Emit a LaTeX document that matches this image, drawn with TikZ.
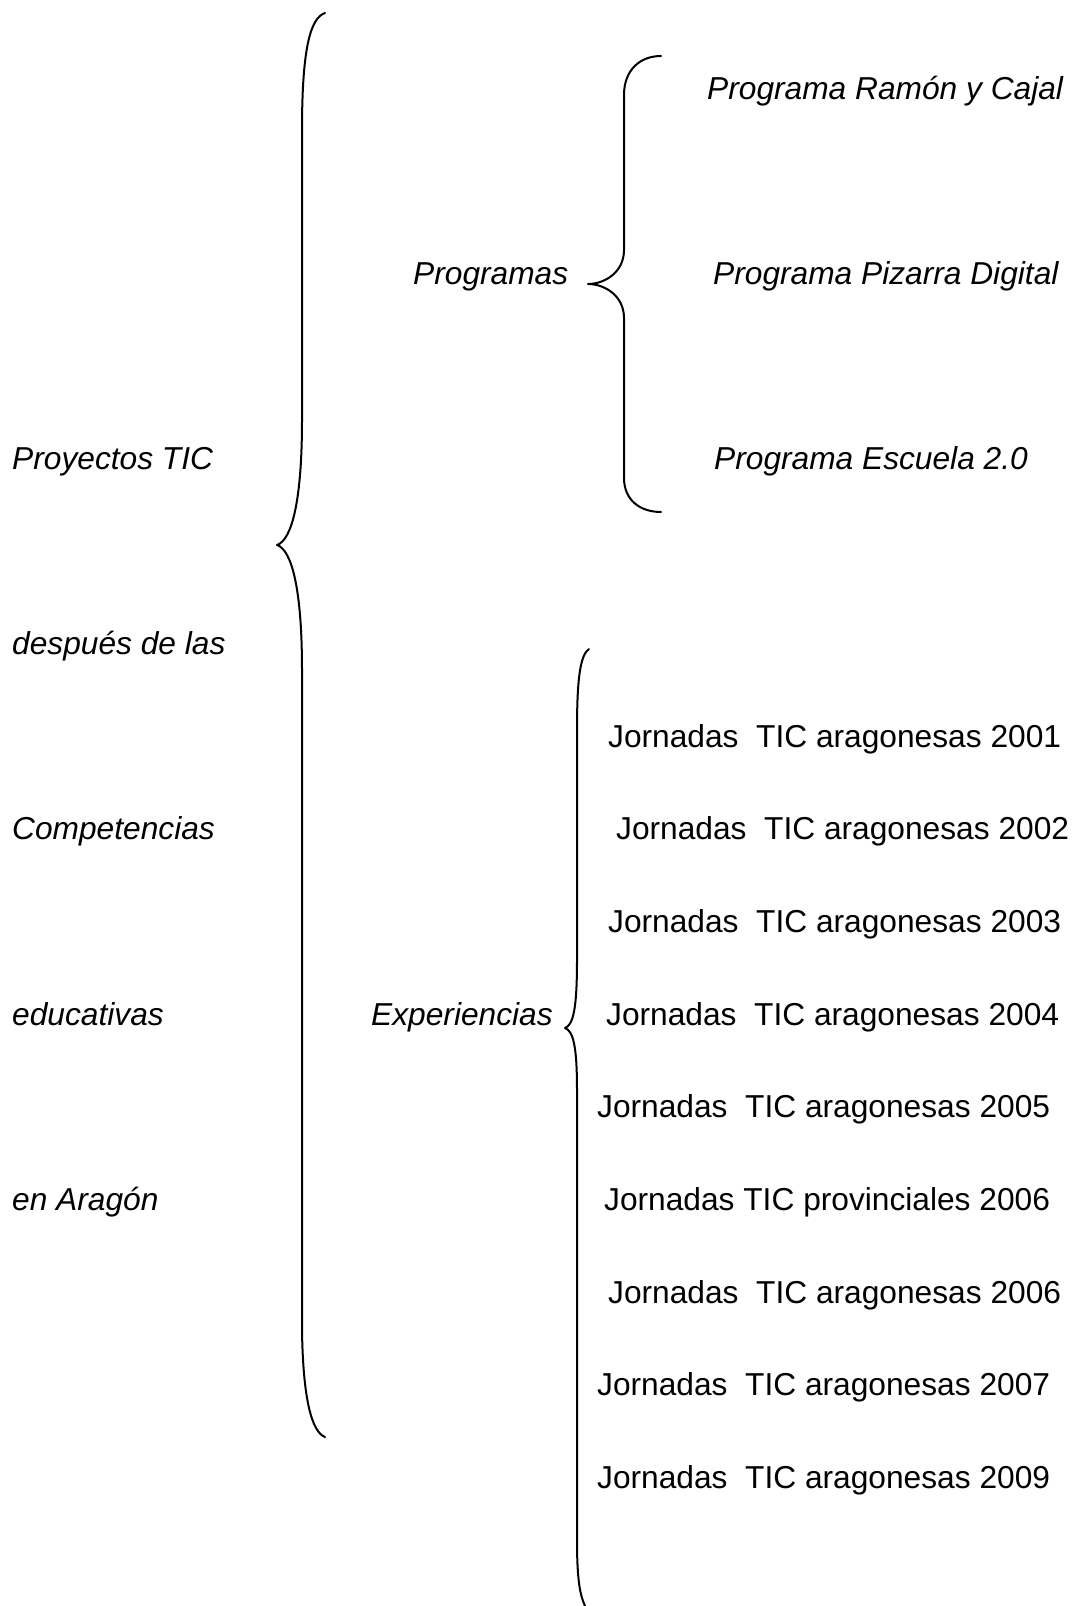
\documentclass[tikz,border=0pt]{standalone}
\usepackage{fontspec}
\setmainfont{Liberation Sans}
\tikzset{
  txt/.style = {anchor=base west, inner sep=0pt, font=\fontsize{31.7}{38}\selectfont},
  itx/.style = {txt, font=\fontsize{31.7}{38}\selectfont\itshape},
  brace/.style = {line width=2pt, line cap=round, line join=round}
}
\begin{document}
\begin{tikzpicture}[x=1pt, y=-1pt]
        \useasboundingbox (0, 0) rectangle (1078, 1606);
        % titulo
        \node[itx] (proyectos) at (12, 469) {Proyectos TIC};
        \node[itx] (despues) at (12, 654) {despu\'es de las};
        \node[itx] (competencias) at (12, 839) {Competencias};
        \node[itx] (educativas) at (12, 1025) {educativas};
        \node[itx] (aragon) at (12, 1210) {en Arag\'on};
        % llave grande
        \draw[brace] (325, 13) .. controls (310, 18) and (302, 50) .. (302, 130)
          -- (302, 420) .. controls (302, 500) and (292, 540) .. (277, 545)
          .. controls (292, 550) and (302, 590) .. (302, 670)
          -- (302, 1330) .. controls (303, 1400) and (312, 1432) .. (325, 1437);
        % programas
        \node[itx] (programas) at (413, 284) {Programas};
        \draw[brace] (661, 56) .. controls (640, 56) and (624, 70) .. (624, 95)
          -- (624, 250) .. controls (624, 272) and (605, 284) .. (588, 284)
          .. controls (605, 284) and (624, 296) .. (624, 318)
          -- (624, 478) .. controls (624, 500) and (640, 512) .. (661, 512);
        \node[itx] (ramon) at (707, 99) {Programa Ram\'on y Cajal};
        \node[itx] (pizarra) at (713, 284) {Programa Pizarra Digital};
        \node[itx] (escuela) at (714, 469) {Programa Escuela 2.0};
        % experiencias
        \node[itx] (experiencias) at (371, 1025) {Experiencias};
        \draw[brace] (589, 649) .. controls (580, 655) and (577, 680) .. (577, 730)
          -- (577, 960) .. controls (577, 1010) and (573, 1025) .. (565, 1028)
          .. controls (573, 1031) and (577, 1045) .. (577, 1090)
          -- (577, 1540) .. controls (577, 1580) and (580, 1595) .. (585, 1606);
        % jornadas
        \node[txt] (j2001) at (608, 747) {Jornadas\ \ TIC aragonesas 2001};
        \node[txt] (j2002) at (616, 839) {Jornadas\ \ TIC aragonesas 2002};
        \node[txt] (j2003) at (608, 932) {Jornadas\ \ TIC aragonesas 2003};
        \node[txt] (j2004) at (606, 1025) {Jornadas\ \ TIC aragonesas 2004};
        \node[txt] (j2005) at (597, 1117) {Jornadas\ \ TIC aragonesas 2005};
        \node[txt] (jprov) at (604, 1210) {Jornadas TIC provinciales 2006};
        \node[txt] (j2006) at (608, 1303) {Jornadas\ \ TIC aragonesas 2006};
        \node[txt] (j2007) at (597, 1395) {Jornadas\ \ TIC aragonesas 2007};
        \node[txt] (j2009) at (597, 1488) {Jornadas\ \ TIC aragonesas 2009};
      \end{tikzpicture}
\end{document}
